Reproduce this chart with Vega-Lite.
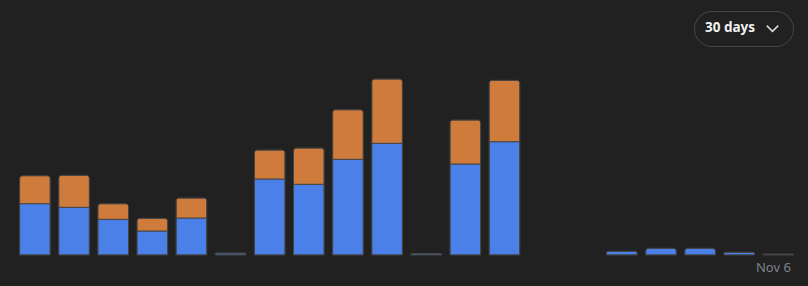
{
  "$schema": "https://vega.github.io/schema/vega-lite/v6.json",
  "width": 795.3,
  "height": 255,
  "autosize": "none",
  "padding": {"left": 9, "top": 0, "right": 3.7, "bottom": 31},
  "background": "#212121",
  "config": {"view": {"stroke": null}, "font": "Noto Sans"},
  "datasets": {
    "bars": [
      {"date": "Oct 18", "type": "primary", "value": 51.3},
      {"date": "Oct 18", "type": "secondary", "value": 28},
      {"date": "Oct 19", "type": "primary", "value": 47.7},
      {"date": "Oct 19", "type": "secondary", "value": 32},
      {"date": "Oct 20", "type": "primary", "value": 35.7},
      {"date": "Oct 20", "type": "secondary", "value": 15.6},
      {"date": "Oct 21", "type": "primary", "value": 24},
      {"date": "Oct 21", "type": "secondary", "value": 12.7},
      {"date": "Oct 22", "type": "primary", "value": 37},
      {"date": "Oct 22", "type": "secondary", "value": 20},
      {"date": "Oct 23", "type": "primary", "value": 2},
      {"date": "Oct 24", "type": "primary", "value": 76},
      {"date": "Oct 24", "type": "secondary", "value": 29},
      {"date": "Oct 25", "type": "primary", "value": 70.7},
      {"date": "Oct 25", "type": "secondary", "value": 36.3},
      {"date": "Oct 26", "type": "primary", "value": 95.7},
      {"date": "Oct 26", "type": "secondary", "value": 49.6},
      {"date": "Oct 27", "type": "primary", "value": 111.7},
      {"date": "Oct 27", "type": "secondary", "value": 64.3},
      {"date": "Oct 28", "type": "primary", "value": 1.5},
      {"date": "Oct 29", "type": "primary", "value": 91},
      {"date": "Oct 29", "type": "secondary", "value": 44},
      {"date": "Oct 30", "type": "primary", "value": 113.3},
      {"date": "Oct 30", "type": "secondary", "value": 61.4},
      {"date": "Nov 2", "type": "primary", "value": 3.7},
      {"date": "Nov 3", "type": "primary", "value": 6.7},
      {"date": "Nov 4", "type": "primary", "value": 6.7},
      {"date": "Nov 5", "type": "primary", "value": 2.7},
      {"date": "Nov 6", "type": "primary", "value": 1}
    ]
  },
  "layer": [
    {
      "data": {"name": "bars"},
      "mark": {"type": "bar", "cornerRadiusEnd": 3, "stroke": "#454545", "strokeWidth": 1},
      "encoding": {
        "x": {
          "field": "date",
          "type": "ordinal",
          "sort": null,
          "scale": {
            "domain": ["Oct 18", "Oct 19", "Oct 20", "Oct 21", "Oct 22", "Oct 23", "Oct 24", "Oct 25", "Oct 26", "Oct 27", "Oct 28", "Oct 29", "Oct 30", "Oct 31", "Nov 1", "Nov 2", "Nov 3", "Nov 4", "Nov 5", "Nov 6"],
            "paddingInner": 0.2155,
            "paddingOuter": 0.27
          },
          "axis": {
            "title": null,
            "domain": false,
            "ticks": false,
            "grid": false,
            "labelAngle": 0,
            "labelExpr": "datum.value == 'Nov 6' ? datum.value : ''",
            "labelColor": "#7d828a",
            "labelFontSize": 13,
            "labelPadding": 6,
            "labelAlign": "center",
            "labelOffset": -5
          }
        },
        "y": {
          "field": "value",
          "type": "quantitative",
          "stack": "zero",
          "scale": {"domain": [0, 255]},
          "axis": null
        },
        "color": {
          "field": "type",
          "type": "nominal",
          "scale": {"domain": ["primary", "secondary"], "range": ["#4a80e8", "#cf7b3c"]},
          "legend": null
        },
        "order": {"field": "type", "sort": "ascending"}
      }
    },
    {
      "data": {"values": [{"range": "30 days"}]},
      "mark": {"type": "point", "filled": false, "opacity": 0, "color": "#dcdcdc", "strokeWidth": 1.5},
      "encoding": {
        "shape": {
          "field": "range",
          "type": "nominal",
          "scale": {"range": ["M-1,-0.5L0,0.5L1,-0.5"]},
          "legend": {
            "title": "30 days",
            "orient": "top-right",
            "offset": 11,
            "titleOrient": "left",
            "titleFontSize": 13.5,
            "titleFontWeight": "bold",
            "titleColor": "#f2f2f2",
            "titlePadding": 10,
            "labelExpr": "''",
            "labelOffset": 0,
            "symbolSize": 130,
            "symbolStrokeWidth": 1.5,
            "symbolStrokeColor": "#dcdcdc",
            "symbolFillColor": "transparent",
            "symbolOpacity": 1,
            "strokeColor": "#474747",
            "fillColor": "#212121",
            "cornerRadius": 18,
            "padding": 11
          }
        }
      }
    }
  ]
}
